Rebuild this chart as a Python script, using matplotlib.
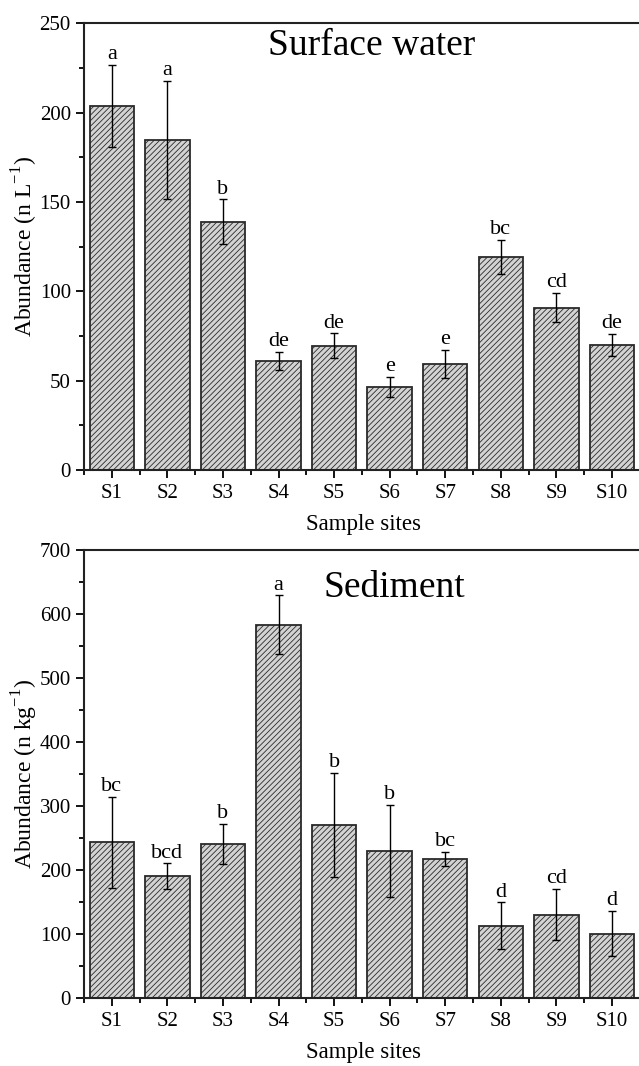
import matplotlib
matplotlib.use("Agg")
import matplotlib.pyplot as plt
import numpy as np
from matplotlib.ticker import MultipleLocator

plt.rcParams['font.family'] = ['Liberation Serif', 'DejaVu Serif']
plt.rcParams['mathtext.fontset'] = 'custom'
plt.rcParams['mathtext.rm'] = 'Liberation Serif'
plt.rcParams['hatch.linewidth'] = 0.6
plt.rcParams['hatch.color'] = '#444444'

sites = ['S1', 'S2', 'S3', 'S4', 'S5', 'S6', 'S7', 'S8', 'S9', 'S10']

# surface water (n L-1)
water_mean = [204, 185, 139, 61, 69.5, 46.5, 59.5, 119.5, 91, 70]
water_err = [23, 33, 12.5, 5, 7, 5.5, 8, 9.5, 8, 6]
water_lab = ['a', 'a', 'b', 'de', 'de', 'e', 'e', 'bc', 'cd', 'de']

# sediment (n kg-1)
sed_mean = [243, 190, 240, 583, 270, 230, 217, 113, 130, 100]
sed_err = [71, 20, 31, 46, 81, 72, 11, 36, 40, 35]
sed_lab = ['bc', 'bcd', 'b', 'a', 'b', 'b', 'bc', 'd', 'cd', 'd']

fig = plt.figure(figsize=(6.39, 10.66), dpi=100)
ax1 = fig.add_axes([0.1315, 0.559, 0.874, 0.419])
ax2 = fig.add_axes([0.1315, 0.064, 0.874, 0.42])


def panel(ax, mean, err, lab, ymax, major, minor, ylabel, title, tx, ty, lab_off):
    x = np.arange(1, len(sites) + 1)
    ax.bar(x, mean, width=0.8, color='#d3d3d3', edgecolor='#2a2a2a',
           linewidth=1.3, hatch='//////', zorder=2)
    ax.errorbar(x, mean, yerr=err, fmt='none', ecolor='black',
                elinewidth=1, capsize=3.2, capthick=1, zorder=3)
    for xi, m, e, l in zip(x, mean, err, lab):
        ax.text(xi, m + e + lab_off, l, ha='center', va='bottom', fontsize=16)
    ax.set_xlim(0.5, 10.55)
    ax.set_ylim(0, ymax)
    ax.set_xticks(x)
    ax.set_xticklabels(sites)
    ax.set_xticks(np.append(x - 0.5, 10.5), minor=True)
    ax.yaxis.set_major_locator(MultipleLocator(major))
    ax.yaxis.set_minor_locator(MultipleLocator(minor))
    ax.tick_params(axis='both', which='major', direction='out', length=6,
                   width=1.3, labelsize=15)
    ax.tick_params(axis='both', which='minor', direction='out', length=3.5,
                   width=1.3)
    ax.tick_params(axis='x', pad=4)
    for s in ax.spines.values():
        s.set_linewidth(1.5)
        s.set_color('#222222')
    ax.set_xlabel('Sample sites', fontsize=16.5, labelpad=8)
    ax.set_ylabel(ylabel, fontsize=17, labelpad=0)
    ax.text(tx, ty, title, transform=ax.transAxes, ha='center', va='center',
            fontsize=27)


panel(ax1, water_mean, water_err, water_lab, 250, 50, 25,
      'Abundance (n L$^{\\mathregular{-1}}$)', 'Surface water', 0.515, 0.95, 0.5)
panel(ax2, sed_mean, sed_err, sed_lab, 700, 100, 50,
      'Abundance (n kg$^{\\mathregular{-1}}$)', 'Sediment', 0.555, 0.915, 1.5)

fig.savefig('out.png', dpi=100)
